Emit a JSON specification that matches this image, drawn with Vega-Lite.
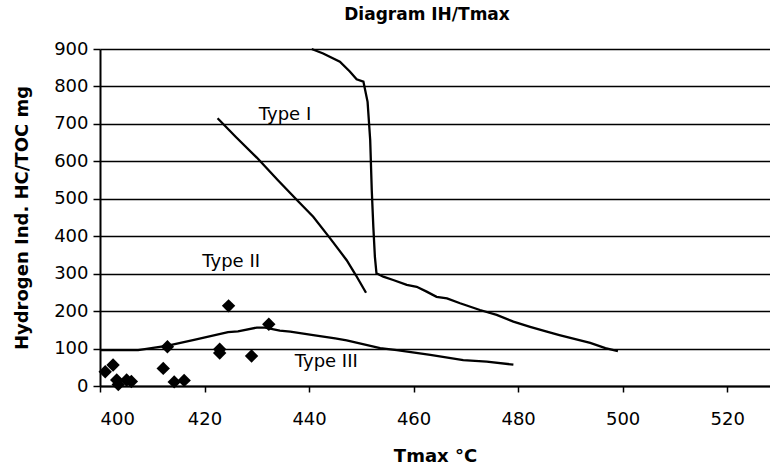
{
  "$schema": "https://vega.github.io/schema/vega-lite/v6.json",
  "autosize": "none",
  "width": 670,
  "height": 337,
  "padding": {"left": 100, "top": 49, "right": 0, "bottom": 87},
  "background": "white",
  "title": {"text": "Diagram IH/Tmax", "font": "DejaVu Sans", "fontSize": 17, "fontWeight": "bold", "color": "black", "anchor": "middle", "dx": -8, "offset": 16},
  "config": {
    "view": {"stroke": null},
    "axis": {"labelFont": "DejaVu Sans", "titleFont": "DejaVu Sans", "labelColor": "black", "titleColor": "black", "domainColor": "black", "tickColor": "black"}
  },
  "datasets": {
    "curves": [
      {"series": "I", "ord": 1, "tmax": 440.5, "hi": 900},
      {"series": "I", "ord": 2, "tmax": 442.7, "hi": 888},
      {"series": "I", "ord": 3, "tmax": 445.9, "hi": 866},
      {"series": "I", "ord": 4, "tmax": 447.8, "hi": 840},
      {"series": "I", "ord": 5, "tmax": 449.1, "hi": 819},
      {"series": "I", "ord": 6, "tmax": 450.4, "hi": 813},
      {"series": "I", "ord": 7, "tmax": 451.2, "hi": 759},
      {"series": "I", "ord": 8, "tmax": 451.7, "hi": 657},
      {"series": "I", "ord": 9, "tmax": 452.0, "hi": 523},
      {"series": "I", "ord": 10, "tmax": 452.3, "hi": 425},
      {"series": "I", "ord": 11, "tmax": 452.6, "hi": 345},
      {"series": "I", "ord": 12, "tmax": 452.9, "hi": 301},
      {"series": "I", "ord": 13, "tmax": 454.2, "hi": 292},
      {"series": "I", "ord": 14, "tmax": 456.1, "hi": 283},
      {"series": "I", "ord": 15, "tmax": 458.7, "hi": 270},
      {"series": "I", "ord": 16, "tmax": 460.6, "hi": 265},
      {"series": "I", "ord": 17, "tmax": 462.5, "hi": 252},
      {"series": "I", "ord": 18, "tmax": 464.4, "hi": 238},
      {"series": "I", "ord": 19, "tmax": 466.4, "hi": 234},
      {"series": "I", "ord": 20, "tmax": 468.9, "hi": 221},
      {"series": "I", "ord": 21, "tmax": 472.7, "hi": 203},
      {"series": "I", "ord": 22, "tmax": 475.9, "hi": 190},
      {"series": "I", "ord": 23, "tmax": 479.1, "hi": 172},
      {"series": "I", "ord": 24, "tmax": 482.3, "hi": 158},
      {"series": "I", "ord": 25, "tmax": 485.5, "hi": 145},
      {"series": "I", "ord": 26, "tmax": 487.9, "hi": 136},
      {"series": "I", "ord": 27, "tmax": 493.8, "hi": 115},
      {"series": "I", "ord": 28, "tmax": 496.7, "hi": 101},
      {"series": "I", "ord": 29, "tmax": 499.1, "hi": 93},
      {"series": "II", "ord": 1, "tmax": 422.5, "hi": 715},
      {"series": "II", "ord": 2, "tmax": 426.0, "hi": 665},
      {"series": "II", "ord": 3, "tmax": 430.0, "hi": 610},
      {"series": "II", "ord": 4, "tmax": 434.0, "hi": 550},
      {"series": "II", "ord": 5, "tmax": 438.0, "hi": 492},
      {"series": "II", "ord": 6, "tmax": 440.8, "hi": 452},
      {"series": "II", "ord": 7, "tmax": 444.0, "hi": 395},
      {"series": "II", "ord": 8, "tmax": 447.2, "hi": 336},
      {"series": "II", "ord": 9, "tmax": 449.0, "hi": 295},
      {"series": "II", "ord": 10, "tmax": 450.9, "hi": 249},
      {"series": "III", "ord": 1, "tmax": 400.0, "hi": 96},
      {"series": "III", "ord": 2, "tmax": 407.3, "hi": 96},
      {"series": "III", "ord": 3, "tmax": 413.0, "hi": 108},
      {"series": "III", "ord": 4, "tmax": 418.0, "hi": 123},
      {"series": "III", "ord": 5, "tmax": 424.5, "hi": 144},
      {"series": "III", "ord": 6, "tmax": 426.4, "hi": 146},
      {"series": "III", "ord": 7, "tmax": 430.0, "hi": 156},
      {"series": "III", "ord": 8, "tmax": 431.6, "hi": 156},
      {"series": "III", "ord": 9, "tmax": 434.4, "hi": 148},
      {"series": "III", "ord": 10, "tmax": 436.4, "hi": 145},
      {"series": "III", "ord": 11, "tmax": 440.8, "hi": 136},
      {"series": "III", "ord": 12, "tmax": 445.0, "hi": 127},
      {"series": "III", "ord": 13, "tmax": 447.2, "hi": 122},
      {"series": "III", "ord": 14, "tmax": 453.6, "hi": 101},
      {"series": "III", "ord": 15, "tmax": 456.8, "hi": 96},
      {"series": "III", "ord": 16, "tmax": 463.2, "hi": 83},
      {"series": "III", "ord": 17, "tmax": 469.5, "hi": 69},
      {"series": "III", "ord": 18, "tmax": 474.0, "hi": 65},
      {"series": "III", "ord": 19, "tmax": 479.1, "hi": 57}
    ],
    "samples": [
      {"tmax": 401.0, "hi": 38},
      {"tmax": 402.5, "hi": 56},
      {"tmax": 403.2, "hi": 16},
      {"tmax": 403.5, "hi": 4},
      {"tmax": 405.1, "hi": 16},
      {"tmax": 406.0, "hi": 12},
      {"tmax": 412.1, "hi": 47},
      {"tmax": 412.9, "hi": 105},
      {"tmax": 414.2, "hi": 11},
      {"tmax": 416.1, "hi": 15},
      {"tmax": 422.9, "hi": 98},
      {"tmax": 422.9, "hi": 88},
      {"tmax": 424.6, "hi": 214},
      {"tmax": 429.0, "hi": 80},
      {"tmax": 432.3, "hi": 165}
    ],
    "labels": [
      {"tmax": 435.4, "hi": 724, "label": "Type I"},
      {"tmax": 425.1, "hi": 331, "label": "Type II"},
      {"tmax": 443.3, "hi": 63, "label": "Type III"}
    ]
  },
  "encoding": {
    "x": {
      "field": "tmax", "type": "quantitative",
      "scale": {"domain": [400, 528.2], "nice": false, "zero": false},
      "axis": {"title": "Tmax °C", "values": [400, 420, 440, 460, 480, 500, 520], "grid": false, "labelFontSize": 18, "labelPadding": 18, "tickSize": 6, "tickWidth": 1.5, "domainWidth": 2, "titleFontSize": 18, "titleFontWeight": "bold", "titlePadding": 19}
    },
    "y": {
      "field": "hi", "type": "quantitative",
      "scale": {"domain": [0, 900], "nice": false},
      "axis": {"title": "Hydrogen Ind. HC/TOC mg", "values": [0, 100, 200, 300, 400, 500, 600, 700, 800, 900], "grid": true, "gridColor": "black", "gridOpacity": 1, "gridWidth": 1.5, "labelFontSize": 18, "labelPadding": 5, "tickSize": 7, "tickWidth": 1.5, "domainWidth": 2, "titleFontSize": 18, "titleFontWeight": "bold", "titlePadding": 22}
    }
  },
  "layer": [
    {
      "data": {"name": "curves"},
      "mark": {"type": "line", "color": "black", "strokeWidth": 2.3},
      "encoding": {"detail": {"field": "series"}, "order": {"field": "ord", "type": "quantitative"}}
    },
    {
      "data": {"name": "samples"},
      "mark": {"type": "point", "shape": "diamond", "filled": true, "color": "black", "opacity": 1, "size": 180}
    },
    {
      "data": {"name": "labels"},
      "mark": {"type": "text", "font": "DejaVu Sans", "fontSize": 18, "color": "black", "align": "center", "baseline": "middle"},
      "encoding": {"text": {"field": "label"}}
    }
  ]
}
